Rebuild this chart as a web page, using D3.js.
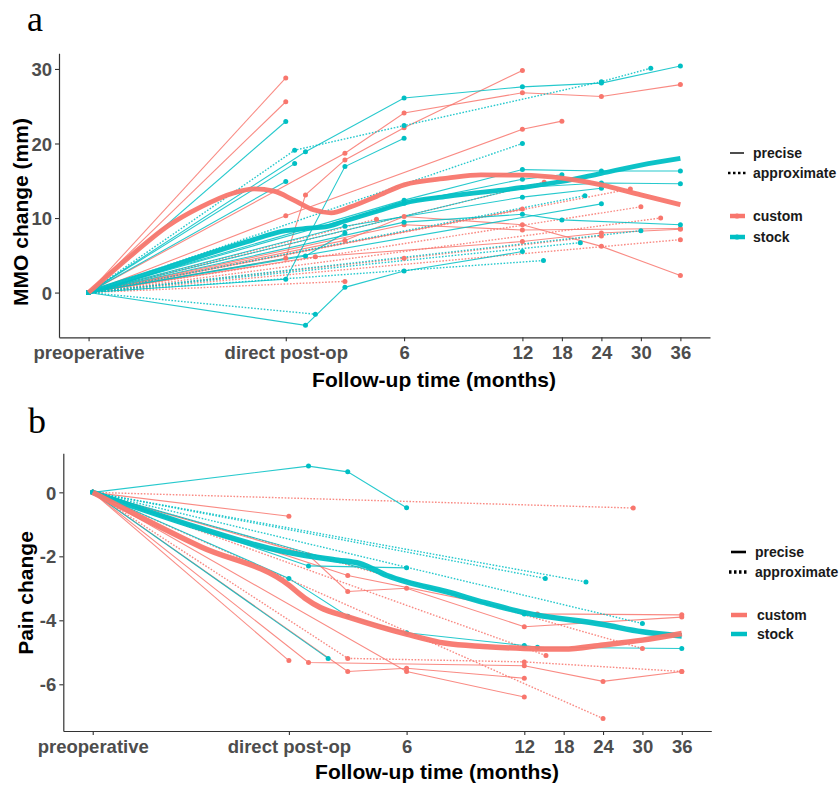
<!DOCTYPE html>
<html><head><meta charset="utf-8">
<script src="https://cdn.jsdelivr.net/npm/d3@7"></script>
<style>
body{margin:0;background:#fff}
svg{display:block}
text{font-family:"Liberation Sans",Arial,Helvetica,sans-serif}
</style>
</head><body>
<svg id="chart" width="839" height="786"></svg>
<script>
// ---------- data ----------
const PREOP = -10; // position of the "preoperative" category on the month axis
const monthTicks = [-10, 0, 6, 12, 18, 24, 30, 36];
const monthTickLabels = ["preoperative", "direct post-op", "6", "12", "18", "24", "30", "36"];
const mmoTicks = [0, 10, 20, 30];
const painTicks = [0, -2, -4, -6];
const groupNames = ["custom", "stock"];
const precisionNames = ["precise", "approximate"];
const groupColors = ["#F8766D", "#00BFC4"];

// MMO change per patient: group, precision, [month, change] after the preoperative 0
const mmoSubjects = [
  {g: "custom", p: "precise", v: [[0, 28.8]]},
  {g: "custom", p: "precise", v: [[0, 25.6]]},
  {g: "custom", p: "precise", v: [[0, 4.6], [1, 13.1], [3, 17.8], [6, 22.1], [12, 29.8]]},
  {g: "custom", p: "precise", v: [[3, 18.7], [6, 24.1], [12, 26.8], [24, 26.3], [36, 27.9]]},
  {g: "custom", p: "precise", v: [[0, 10.3], [12, 21.9], [18, 23.0]]},
  {g: "custom", p: "precise", v: [[3, 7.0], [6, 10.2], [12, 9.1], [24, 6.2], [36, 2.3]]},
  {g: "custom", p: "precise", v: [[6, 9.1], [12, 8.4], [36, 8.6]]},
  {g: "custom", p: "precise", v: [[1.5, 4.8], [12, 6.85], [24, 8.0], [36, 8.5]]},
  {g: "custom", p: "precise", v: [[12, 11.2]]},
  {g: "custom", p: "approximate", v: [[30, 11.5]]},
  {g: "custom", p: "approximate", v: [[33, 10.0]]},
  {g: "custom", p: "approximate", v: [[36, 7.1]]},
  {g: "custom", p: "approximate", v: [[3, 1.5]]},
  {g: "custom", p: "approximate", v: [[4.6, 9.85]]},
  {g: "custom", p: "approximate", v: [[28.4, 13.9]]},
  {g: "custom", p: "approximate", v: [[15.3, 14.8]]},
  {g: "custom", p: "approximate", v: [[6, 4.6], [24, 7.6]]},
  {g: "stock", p: "precise", v: [[0, 22.95]]},
  {g: "stock", p: "precise", v: [[0, 14.9]]},
  {g: "stock", p: "precise", v: [[0, 1.8], [3, 16.9], [6, 20.7]]},
  {g: "stock", p: "precise", v: [[1, 18.9], [6, 26.1], [12, 27.6], [24, 28.1], [36, 30.4]]},
  {g: "stock", p: "precise", v: [[0.45, 17.3]]},
  {g: "stock", p: "precise", v: [[1, -4.4], [3, 0.7], [6, 2.9], [12, 5.5]]},
  {g: "stock", p: "precise", v: [[6, 12.4], [12, 16.5], [24, 16.3], [36, 16.3]]},
  {g: "stock", p: "precise", v: [[6, 12.0], [12, 15.2], [18, 15.8]]},
  {g: "stock", p: "precise", v: [[12, 14.1], [24, 14.7], [36, 14.6]]},
  {g: "stock", p: "precise", v: [[3, 8.9], [12, 12.8], [24, 14.0]]},
  {g: "stock", p: "precise", v: [[6, 9.45], [12, 10.5], [18, 9.75], [36, 9.1]]},
  {g: "stock", p: "precise", v: [[24, 11.9]]},
  {g: "stock", p: "precise", v: [[1, 4.9], [3, 8.0]]},
  {g: "stock", p: "approximate", v: [[0.45, 19.1], [6, 22.4], [24, 28.3], [31.5, 30.1]]},
  {g: "stock", p: "approximate", v: [[12, 20.0]]},
  {g: "stock", p: "approximate", v: [[1.5, -2.9]]},
  {g: "stock", p: "approximate", v: [[21.5, 13.0]]},
  {g: "stock", p: "approximate", v: [[20.8, 6.7]]},
  {g: "stock", p: "approximate", v: [[15.2, 4.3]]},
  {g: "stock", p: "approximate", v: [[30, 8.3]]}
];
const mmoSmoothCustom = [[-10, 0], [-7.7, 5.3], [-6, 8.9], [-4.3, 11.5], [-2.6, 13.4], [-1.6, 13.9], [-0.6, 13.6],
  [0.4, 12.4], [1.4, 11.1], [2.3, 10.7], [3.3, 11.5], [4.6, 12.9], [6, 14.45], [8.2, 15.35], [9.9, 15.8],
  [12, 15.75], [18, 15.35], [24, 14.45], [30, 13.1], [36, 11.8]];
const mmoSmoothStock = [[-10, 0], [-6, 3.4], [-2, 6.8], [0, 8.3], [1, 8.6], [2, 8.8], [3, 9.6], [4.5, 10.8],
  [6, 12.0], [8.2, 12.9], [12, 14.1], [18, 14.9], [24, 16.0], [30, 17.1], [36, 18.0]];

// Pain change per patient
const painSubjects = [
  {g: "custom", p: "precise", v: [[0, -0.75]]},
  {g: "custom", p: "precise", v: [[1, -1.96], [3, -3.1], [6, -3.0], [12, -4.2], [36, -3.9]]},
  {g: "custom", p: "precise", v: [[3, -2.6], [14, -3.8], [36, -3.83]]},
  {g: "custom", p: "precise", v: [[0, -5.26]]},
  {g: "custom", p: "precise", v: [[1, -5.32], [12, -5.42], [24, -5.91], [36, -5.6]]},
  {g: "custom", p: "precise", v: [[3, -5.6], [6, -5.5], [12, -5.81]]},
  {g: "custom", p: "precise", v: [[6, -5.6], [12, -6.4]]},
  {g: "custom", p: "approximate", v: [[28.6, -0.49]]},
  {g: "custom", p: "approximate", v: [[3, -5.19], [12, -5.3], [36, -5.6]]},
  {g: "custom", p: "approximate", v: [[24, -7.07]]},
  {g: "custom", p: "approximate", v: [[15.3, -5.1]]},
  {g: "custom", p: "approximate", v: [[30, -4.88]]},
  {g: "stock", p: "precise", v: [[1, 0.82], [3, 0.64], [6, -0.48]]},
  {g: "stock", p: "precise", v: [[1, -2.3], [6, -2.36]]},
  {g: "stock", p: "precise", v: [[0, -2.69], [3, -3.87], [6, -4.39], [12, -4.79], [14, -4.84], [36, -4.88]]},
  {g: "stock", p: "precise", v: [[2, -5.19]]},
  {g: "stock", p: "precise", v: [[12, -3.8]]},
  {g: "stock", p: "approximate", v: [[15.2, -2.69]]},
  {g: "stock", p: "approximate", v: [[21.4, -2.8]]},
  {g: "stock", p: "approximate", v: [[30, -4.1]]}
];
const painSmoothCustom = [[-10, 0], [-4.5, -1.7], [0, -2.9], [0.8, -3.3], [1.6, -3.6], [3, -3.89], [6, -4.43],
  [8, -4.72], [9.9, -4.82], [12, -4.88], [18, -4.9], [24, -4.77], [30, -4.62], [36, -4.41]];
const painSmoothStock = [[-10, 0], [-4.5, -1.13], [-1, -1.75], [0.7, -1.96], [2.5, -2.12], [3.6, -2.22],
  [5, -2.6], [6, -2.8], [8, -3.1], [10, -3.45], [12, -3.76], [24, -4.13], [30, -4.36], [36, -4.49]];

// ---------- drawing ----------
const svg = d3.select("#chart");
const color = d3.scaleOrdinal().domain(groupNames).range(groupColors);

function panel(cfg) {
  const x = d3.scaleLinear().domain([-11.5, 12, 40.5]).range([cfg.left, cfg.x12, cfg.right]);
  const y = d3.scaleLinear().domain(cfg.yDomain).range([cfg.bottom, cfg.top]);
  const g = svg.append("g");
  const line = d3.line().x(d => x(d[0])).y(d => y(d[1]));

  // subject lines
  cfg.subjects.forEach(s => {
    const pts = [[PREOP, 0]].concat(s.v);
    g.append("path").datum(pts).attr("d", line)
      .attr("fill", "none").attr("stroke", color(s.g))
      .attr("stroke-width", s.p === "precise" ? 1.1 : 1.4)
      .attr("stroke-opacity", 0.85)
      .attr("stroke-dasharray", s.p === "precise" ? null : "1.6,1.6");
  });
  cfg.subjects.forEach(s => {
    const pts = [[PREOP, 0]].concat(s.v);
    g.selectAll(null).data(pts).enter().append("circle")
      .attr("cx", d => x(d[0])).attr("cy", d => y(d[1])).attr("r", 2.5)
      .attr("fill", color(s.g));
  });
  // smooth trends
  const sm = d3.line().x(d => x(d[0])).y(d => y(d[1])).curve(d3.curveMonotoneX);
  [["stock", cfg.smoothStock], ["custom", cfg.smoothCustom]].forEach(([grp, dat]) => {
    g.append("path").datum(dat).attr("d", sm).attr("fill", "none")
      .attr("stroke", color(grp)).attr("stroke-width", cfg.smoothWidth)
      .attr("stroke-opacity", 0.95).attr("stroke-linecap", "butt");
  });

  // axes
  const xa = g.append("g").attr("transform", `translate(0,${cfg.bottom})`)
    .call(d3.axisBottom(x).tickValues(monthTicks).tickFormat((d, i) => monthTickLabels[i]).tickSize(4).tickSizeOuter(0));
  const ya = g.append("g").attr("transform", `translate(${cfg.left},0)`)
    .call(d3.axisLeft(y).tickValues(cfg.yTicks).tickFormat(d => String(d)).tickSize(4).tickSizeOuter(0));
  [xa, ya].forEach(a => {
    a.select(".domain").attr("stroke", "#333").attr("stroke-width", 1.2);
    a.selectAll(".tick line").attr("stroke", "#333").attr("stroke-width", 1.1);
    a.selectAll(".tick text").attr("fill", "#4D4D4D").style("font-size", "18.5px").style("font-weight", "bold")
      .style("font-family", '"Liberation Sans",Arial,sans-serif');
  });
  xa.selectAll(".tick text").attr("dy", null).attr("y", 22);
  ya.selectAll(".tick text").attr("x", -7).attr("dy", "0.36em");

  // titles
  g.append("text").attr("x", cfg.xTitleX).attr("y", cfg.xTitleY).attr("text-anchor", "middle")
    .style("font-size", "21px").style("font-weight", "bold").attr("fill", "#000").text("Follow-up time (months)");
  g.append("text").attr("transform", `translate(${cfg.yTitleX},${cfg.yTitleY}) rotate(-90)`).attr("text-anchor", "middle")
    .style("font-size", "21px").style("font-weight", "bold").attr("fill", "#000").text(cfg.yTitle);
  g.append("text").attr("x", cfg.tagX).attr("y", cfg.tagY)
    .style("font-family", '"Liberation Serif","Times New Roman",serif').style("font-size", "36px")
    .attr("fill", "#000").text(cfg.tag);

  // legend
  const lg = g.append("g");
  const L = cfg.legend;
  lg.append("line").attr("x1", L.kx1).attr("x2", L.kx2).attr("y1", L.y[0]).attr("y2", L.y[0])
    .attr("stroke", "#000").attr("stroke-width", L.lw);
  lg.append("line").attr("x1", L.kx1 - 2).attr("x2", L.kx2 + 2).attr("y1", L.y[1]).attr("y2", L.y[1])
    .attr("stroke", "#000").attr("stroke-width", L.lw + 1).attr("stroke-dasharray", "2.5,2.5");
  groupNames.forEach((n, i) => {
    lg.append("line").attr("x1", L.kx1).attr("x2", L.kx2 + 1).attr("y1", L.y[2 + i]).attr("y2", L.y[2 + i])
      .attr("stroke", color(n)).attr("stroke-width", 4.5);
    if (L.dots) lg.append("circle").attr("cx", (L.kx1 + L.kx2) / 2).attr("cy", L.y[2 + i]).attr("r", 2.6).attr("fill", color(n));
  });
  const labels = precisionNames.concat(groupNames);
  labels.forEach((t, i) => {
    lg.append("text").attr("x", i < 2 ? L.tx : L.tx2).attr("y", L.y[i]).attr("dy", "0.35em")
      .style("font-size", "14px").style("font-weight", "bold").attr("fill", "#1a1a1a").text(t);
  });
}

panel({
  subjects: mmoSubjects, smoothCustom: mmoSmoothCustom, smoothStock: mmoSmoothStock,
  left: 59, x12: 522.4, right: 710, top: 53.3, bottom: 337.3, yDomain: [-6.0, 32.1], yTicks: mmoTicks,
  smoothWidth: 4.8, xTitleX: 434, xTitleY: 387, yTitleX: 28, yTitleY: 212, yTitle: "MMO change (mm)",
  tag: "a", tagX: 27, tagY: 31,
  legend: {kx1: 730, kx2: 744, tx: 753, tx2: 753, y: [153, 173, 216, 237], lw: 1.4, dots: true}
});
panel({
  subjects: painSubjects, smoothCustom: painSmoothCustom, smoothStock: painSmoothStock,
  left: 63.3, x12: 524.3, right: 711.3, top: 453.3, bottom: 731, yDomain: [-7.46, 1.22], yTicks: painTicks,
  smoothWidth: 5.5, xTitleX: 437, xTitleY: 779, yTitleX: 33, yTitleY: 593, yTitle: "Pain change",
  tag: "b", tagX: 28, tagY: 433,
  legend: {kx1: 731, kx2: 746, tx: 755, tx2: 757, y: [552, 572, 615, 634], lw: 2.6, dots: false}
});
</script>
</body></html>
